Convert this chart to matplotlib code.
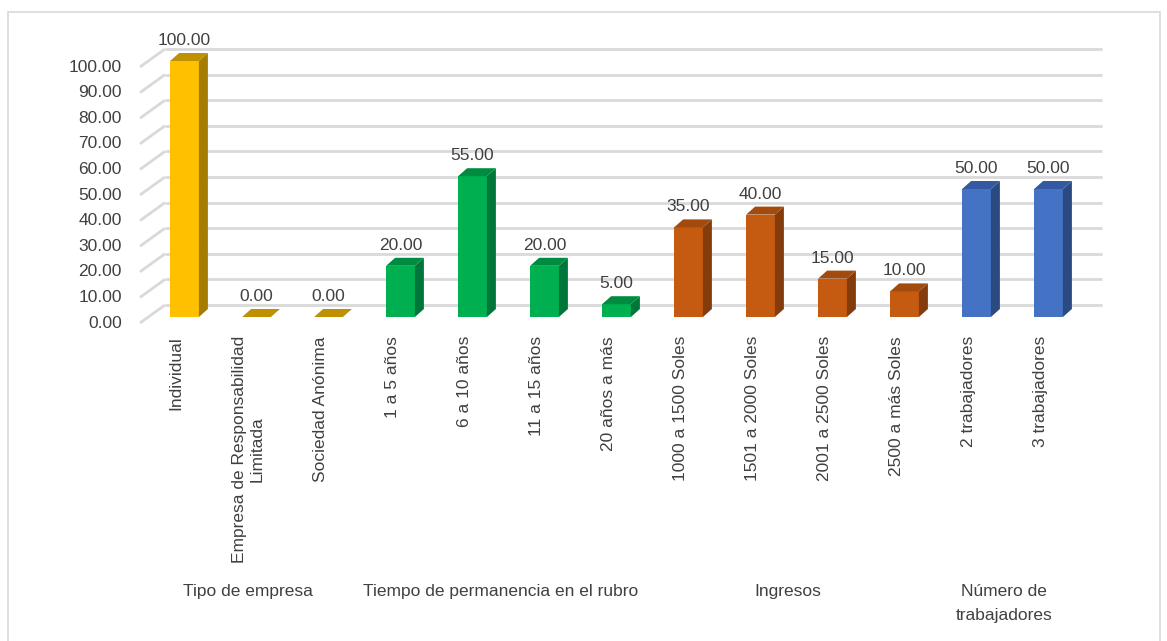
import matplotlib.pyplot as plt
from matplotlib.patches import Polygon, Rectangle

plt.rcParams['font.family'] = ['Liberation Sans', 'DejaVu Sans']

categories = ['Individual', 'Empresa de Responsabilidad\nLimitada', 'Sociedad Anónima',
              '1 a 5 años', '6 a 10 años', '11 a 15 años', '20 años a más',
              '1000 a 1500 Soles', '1501 a 2000 Soles', '2001 a 2500 Soles', '2500 a más Soles',
              '2 trabajadores', '3 trabajadores']
values = [100.00, 0.00, 0.00, 20.00, 55.00, 20.00, 5.00, 35.00, 40.00, 15.00, 10.00, 50.00, 50.00]
groups = ['Tipo de empresa', 'Tiempo de permanencia en el rubro', 'Ingresos', 'Número de\ntrabajadores']
group_sizes = [3, 4, 4, 2]
yticks = [0, 10, 20, 30, 40, 50, 60, 70, 80, 90, 100]

# front / side / top shades per group
palette = [('#FFC000', '#A67C00', '#BF9000'),
           ('#00B050', '#00773A', '#008C40'),
           ('#C55A11', '#843C0C', '#A34A0E'),
           ('#4472C4', '#2B4A82', '#335AA0')]

W, H = 1167, 641
fig = plt.figure(figsize=(W / 100, H / 100), dpi=100)
ax = fig.add_axes([0, 0, 1, 1])
ax.axis('off')

# pixel scale of the plot: one category = 72 px, one unit of value = 2.56 px
x0_px, step_px = 184.5, 72.0
y0_px, unit_px = 317.0, 2.56
ax.set_xlim(-x0_px / step_px, (W - x0_px) / step_px)
ax.set_ylim((y0_px - H) / unit_px, y0_px / unit_px)


def px_x(dx):
    return dx / step_px


def px_y(dy):
    return dy / unit_px


# chart frame
fig.add_artist(Rectangle((8 / W, -0.01), (1160 - 8) / W, (H - 12) / H + 0.01,
                         transform=fig.transFigure, fill=False, ec='#D9D9D9', lw=1.2))

grid_c = '#D9D9D9'
front_dx, front_dy = px_x(-44.5), px_y(-6)   # front-left corner of floor relative to bar front
back_dx, back_dy = px_x(-19.5), px_y(12)
x_right = px_x(1102 - x0_px)
for v in yticks:
    ax.plot([front_dx, back_dx], [v + front_dy, v + back_dy], color=grid_c, lw=2, zorder=1,
            solid_capstyle='butt')
    ax.plot([back_dx, x_right], [v + back_dy, v + back_dy], color=grid_c, lw=2, zorder=1,
            solid_capstyle='butt')
    ax.text(px_x(122 - x0_px), v + front_dy, f'{v:.2f}', ha='right', va='center',
            fontsize=12.5, color='#404040')

# bars with a little depth
colors = []
for g, n in enumerate(group_sizes):
    colors += [palette[g]] * n
bw = 0.40
ddx, ddy = px_x(9), px_y(8)
idx = list(range(len(values)))
ax.bar(idx, values, width=bw, color=[c[0] for c in colors], zorder=3)
for i, v in enumerate(values):
    front, side, top = colors[i]
    l, r = i - bw / 2, i + bw / 2
    if v > 0:
        ax.add_patch(Polygon([(r, 0), (r + ddx, ddy), (r + ddx, v + ddy), (r, v)],
                             closed=True, fc=side, ec='none', zorder=3))
    ax.add_patch(Polygon([(l, v), (r, v), (r + ddx, v + ddy), (l + ddx, v + ddy)],
                         closed=True, fc=top, ec='none', zorder=3))
    ax.text(i, v + ddy + px_y(5), f'{v:.2f}', ha='center', va='bottom',
            fontsize=12.5, color='#404040', zorder=4)

# category labels
lab_dx = px_x(-8.3)
for i, c in enumerate(categories):
    ax.text(i + lab_dx, px_y(317 - 336), c, rotation=90, ha='center', va='top',
            multialignment='center', fontsize=12.5, color='#404040')

# group labels
start = 0
for g, n in zip(groups, group_sizes):
    mid = start + (n - 1) / 2 + lab_dx
    ax.text(mid, px_y(317 - 584), g, ha='center', va='top', multialignment='center',
            fontsize=12.5, color='#404040', linespacing=1.75)
    start += n

fig.savefig('out.png', dpi=100)
